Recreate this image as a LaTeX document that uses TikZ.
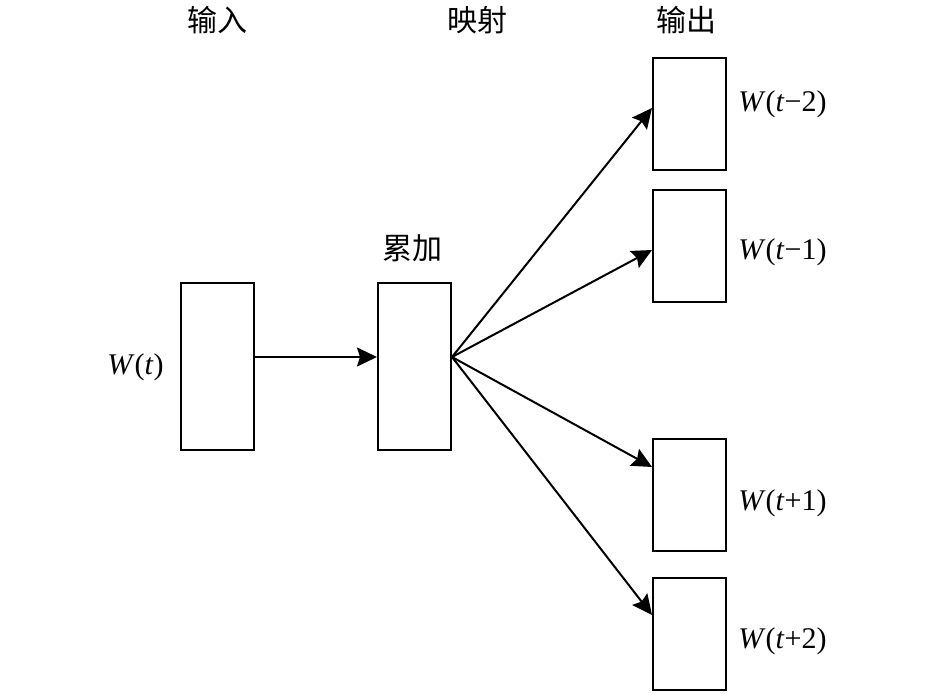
\documentclass[tikz,border=0pt]{standalone}
\usepackage{fontspec}
\setmainfont{Liberation Serif}
\newfontfamily\cjk{Noto Sans CJK SC}
\usetikzlibrary{arrows.meta,calc}
\begin{document}
\begin{tikzpicture}[
  x=0.5pt, y=-0.5pt,
  box/.style={draw, line width=1pt, inner sep=0pt, minimum width=36.5pt},
  tall/.style={box, minimum height=83.5pt},
  short/.style={box, minimum height=56pt},
  arr/.style={-{Stealth[length=10pt,width=9.5pt,inset=1.5pt]}, line width=1pt},
  lbl/.style={inner sep=0pt, font=\fontsize{15}{18}\selectfont},
  head/.style={inner sep=0pt, font=\cjk\fontsize{15}{17}\selectfont}
]
\useasboundingbox (0,0) rectangle (945,694);
% columns
\node [head] (hin) at (217,20) {输入};
\node [head] (hmap) at (477,20) {映射};
\node [head] (hout) at (686,20) {输出};
% boxes
\node [tall] (in) at (217.5,366.5) {};
\node [tall] (sum) at (414.5,366.5) {};
\node [short] (o1) at (689.5,114) {};
\node [short] (o2) at (689.5,246) {};
\node [short] (o3) at (689.5,495) {};
\node [short] (o4) at (689.5,634) {};
% labels
\node [head] (hsum) at (412,248) {累加};
\node [lbl, anchor=east] (lin) at (164,367) {\textit{W}(\textit{t})};
\node [lbl, anchor=west] (l1) at (738,104) {\textit{W}(\textit{t}−2)};
\node [lbl, anchor=west] (l2) at (738,252) {\textit{W}(\textit{t}−1)};
\node [lbl, anchor=west] (l3) at (738,503) {\textit{W}(\textit{t}+1)};
\node [lbl, anchor=west] (l4) at (738,641) {\textit{W}(\textit{t}+2)};
% arrows
\coordinate (hub) at ($(sum.east)+(0,-9.5)$);
\draw [arr] ($(in.east)+(0,-9.5)$) -- ($(sum.west)+(0,-9.5)$);
\draw [arr] (hub) -- ($(o1.west)+(0,-6)$);
\draw [arr] (hub) -- ($(o2.west)+(0,4)$);
\draw [arr] (hub) -- ($(o3.west)+(0,-28)$);
\draw [arr] (hub) -- ($(o4.west)+(0,-19)$);
\end{tikzpicture}
\end{document}
